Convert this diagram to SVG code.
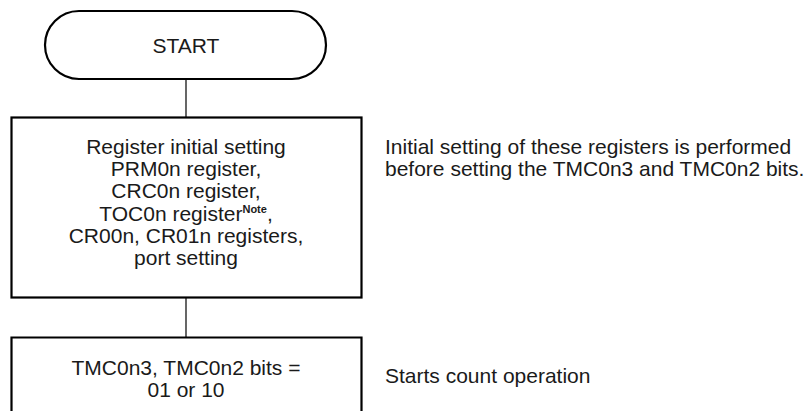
<svg xmlns="http://www.w3.org/2000/svg" width="812" height="411" viewBox="0 0 812 411">
<style>
text{font-family:"Liberation Sans",Arial,sans-serif;font-size:21px;fill:#1a1a1a}
.c{text-anchor:middle}
.shape{fill:#fff;stroke:#000;stroke-width:2.2}
.conn{stroke:#000;stroke-width:1.2;fill:none}
.note{font-size:11px;font-weight:bold}
</style>
<rect width="812" height="411" fill="#fff"/>
<g id="connectors">
<line class="conn" x1="186" y1="79" x2="186" y2="117"/>
<line class="conn" x1="186" y1="298" x2="186" y2="337"/>
</g>
<g id="start">
<rect class="shape" x="45" y="11" width="281" height="68" rx="34" ry="34"/>
<text class="c" x="186" y="53">START</text>
</g>
<g id="init">
<rect class="shape" x="11.5" y="117.5" width="350" height="180"/>
<text class="c" x="186" y="154">Register initial setting</text>
<text class="c" x="186" y="176">PRM0n register,</text>
<text class="c" x="186" y="198">CRC0n register,</text>
<text class="c" x="186" y="221"><tspan>TOC0n register</tspan><tspan class="note" dy="-8">Note</tspan><tspan dy="8">,</tspan></text>
<text class="c" x="186" y="243">CR00n, CR01n registers,</text>
<text class="c" x="186" y="265">port setting</text>
</g>
<g id="init-note">
<text x="385" y="154">Initial setting of these registers is performed</text>
<text x="385" y="176">before setting the TMC0n3 and TMC0n2 bits.</text>
</g>
<g id="tmc">
<path class="shape" d="M11.5,420 V337.5 H361.5 V420"/>
<text class="c" x="186" y="375">TMC0n3, TMC0n2 bits =</text>
<text class="c" x="186" y="397">01 or 10</text>
</g>
<g id="tmc-note">
<text x="385" y="383">Starts count operation</text>
</g>
</svg>
